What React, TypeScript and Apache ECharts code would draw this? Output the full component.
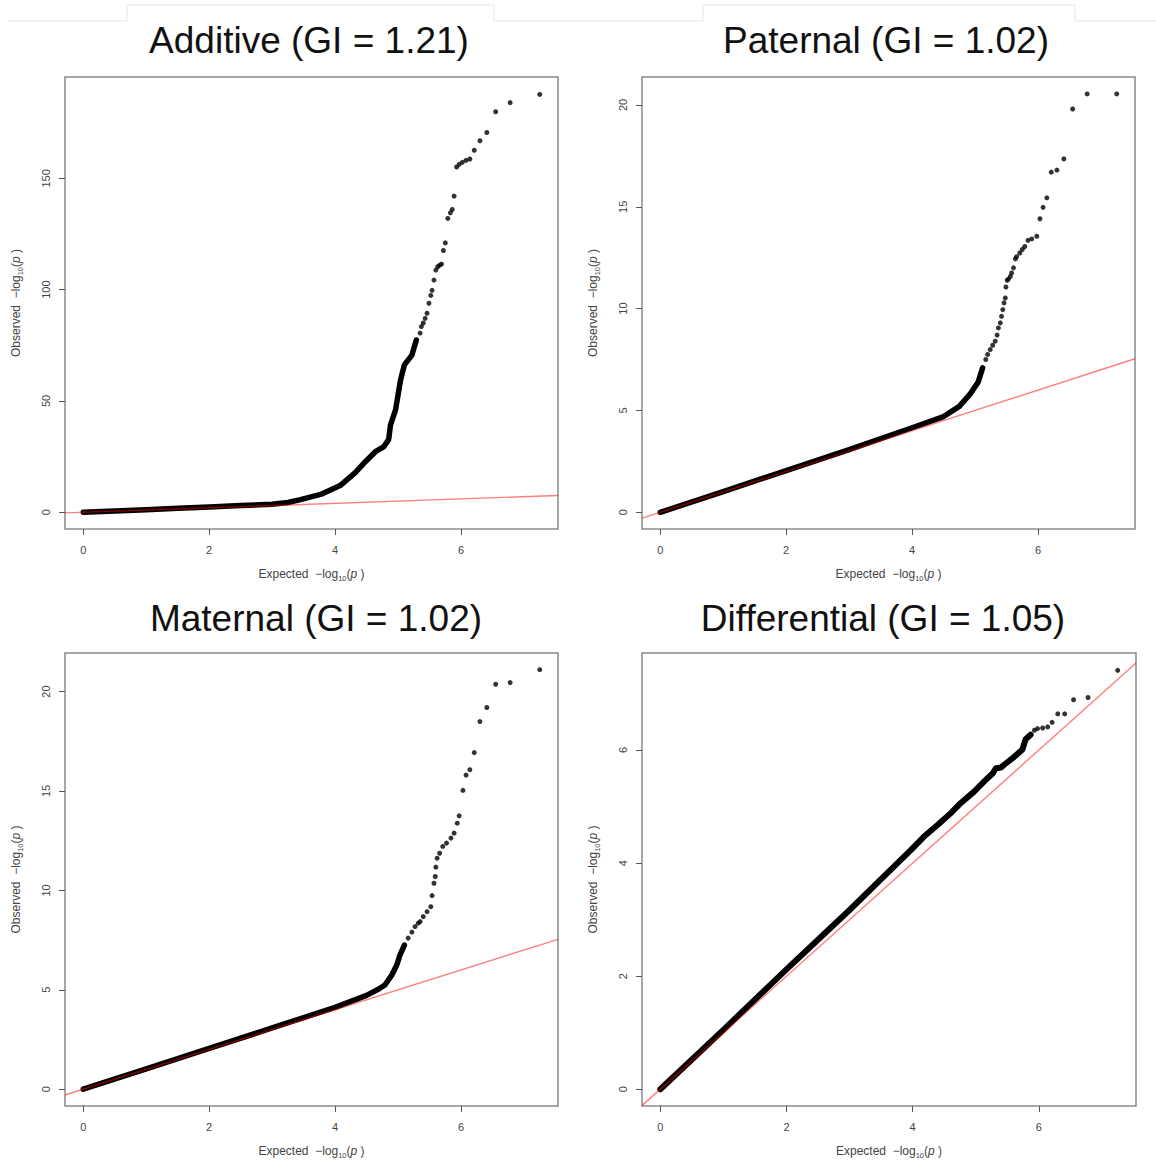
import React, { useEffect, useRef } from "react";
import * as echarts from "echarts";

// Panel titles
const titles = [
  "Additive (GI = 1.21)",
  "Paternal (GI = 1.02)",
  "Maternal (GI = 1.02)",
  "Differential (GI = 1.05)",
];

// Tick values
const xTicks = [0, 2, 4, 6];
const additiveYTicks = [0, 50, 100, 150];
const paternalYTicks = [0, 5, 10, 15, 20];
const maternalYTicks = [0, 5, 10, 15, 20];
const differentialYTicks = [0, 2, 4, 6];

// Expected vs observed -log10(p): dense body of the distribution (drawn as a thick band)
const additiveBand = [
  [0, 0], [0.5, 0.55], [1, 1.15], [1.5, 1.75], [2, 2.4], [2.5, 3.0], [3, 3.6],
  [3.25, 4.4], [3.45, 5.7], [3.77, 8.0], [4.08, 12.0], [4.32, 17.8], [4.48, 22.7],
  [4.64, 27.2], [4.77, 29.4], [4.85, 32.6], [4.88, 39.3], [4.96, 46.0], [5.0, 52.8],
  [5.04, 59.5], [5.1, 66.2], [5.22, 70.6], [5.29, 77.4],
];
// Sparse upper tail (individual SNPs)
const additiveTail = [
  [7.25, 187.7], [6.78, 184.0], [6.55, 179.9], [6.41, 170.6], [6.30, 166.9], [6.21, 162.6],
  [6.14, 158.7], [6.08, 158.1], [6.02, 157.2], [5.97, 156.3], [5.93, 155.1], [5.89, 142.0],
  [5.86, 136.0], [5.83, 134.5], [5.79, 132.0], [5.75, 121.0], [5.72, 117.6], [5.69, 111.5],
  [5.66, 111.0], [5.63, 110.3], [5.60, 108.8], [5.57, 104.3], [5.54, 99.7], [5.52, 97.4],
  [5.49, 93.9], [5.46, 89.4], [5.43, 87.1], [5.40, 85.0], [5.37, 83.4], [5.35, 80.5],
];

const paternalBand = [
  [0, 0], [1, 1.02], [2, 2.05], [3, 3.08], [4, 4.15], [4.5, 4.7], [4.75, 5.2],
  [4.92, 5.8], [5.05, 6.4], [5.12, 7.09],
];
const paternalTail = [
  [5.17, 7.5], [5.2, 7.75], [5.24, 7.99], [5.28, 8.2], [5.32, 8.4], [5.35, 8.7], [5.37, 9.05],
  [5.4, 9.3], [5.42, 9.62], [5.44, 9.95], [5.46, 10.28], [5.48, 10.52], [5.49, 11.06],
  [5.51, 11.39], [5.53, 11.45], [5.56, 11.58], [5.58, 11.75], [5.61, 12.0], [5.64, 12.44],
  [5.66, 12.55], [5.71, 12.73], [5.75, 12.9], [5.79, 13.05], [5.84, 13.35], [5.9, 13.42],
  [5.98, 13.55], [6.03, 14.41], [6.08, 14.97], [6.14, 15.44], [6.21, 16.7], [6.3, 16.8],
  [6.41, 17.35], [6.55, 19.8], [6.78, 20.54], [7.25, 20.54],
];

const maternalBand = [
  [0, 0], [1, 1.02], [2, 2.05], [3, 3.08], [4, 4.12], [4.5, 4.72], [4.7, 5.05],
  [4.79, 5.24], [4.9, 5.74], [4.98, 6.25], [5.03, 6.75], [5.1, 7.25],
];
const maternalTail = [
  [5.16, 7.6], [5.22, 7.9], [5.27, 8.18], [5.32, 8.35], [5.35, 8.43], [5.4, 8.68],
  [5.46, 8.93], [5.52, 9.18], [5.54, 9.74], [5.57, 10.36], [5.59, 10.7], [5.6, 11.17],
  [5.62, 11.62], [5.66, 11.87], [5.71, 12.21], [5.77, 12.38], [5.84, 12.63], [5.89, 12.88],
  [5.94, 13.38], [5.97, 13.75], [6.03, 15.03], [6.08, 15.8], [6.14, 16.07], [6.21, 16.93],
  [6.3, 18.49], [6.41, 19.2], [6.55, 20.37], [6.78, 20.45], [7.25, 21.1],
];

const differentialBand = [
  [0, 0], [1, 1.05], [2, 2.12], [3, 3.17], [3.97, 4.23], [4.18, 4.47], [4.39, 4.67],
  [4.6, 4.88], [4.76, 5.06], [4.97, 5.26], [5.13, 5.44], [5.27, 5.59], [5.32, 5.68],
  [5.4, 5.69], [5.45, 5.74], [5.61, 5.88], [5.74, 6.01], [5.77, 6.12], [5.79, 6.19],
  [5.87, 6.27],
];
const differentialTail = [
  [5.93, 6.35], [5.98, 6.38], [6.06, 6.39], [6.14, 6.41], [6.21, 6.49], [6.3, 6.64],
  [6.41, 6.64], [6.55, 6.89], [6.78, 6.93], [7.25, 7.41],
];

// Axis ranges (data range padded by 4% on each side)
const xRange = [-0.29, 7.54];
const yRanges = [
  [-7.52, 195.52],
  [-0.82, 21.37],
  [-0.844, 21.94],
  [-0.297, 7.717],
];

// y = x reference line across the full x range
const refLine = [
  [xRange[0], xRange[0]],
  [xRange[1], xRange[1]],
];

const FONT = '"Liberation Sans", Arial, Helvetica, sans-serif';
const AXIS_TEXT = "#444";

const panels = [
  { title: titles[0], band: additiveBand, tail: additiveTail, yTicks: additiveYTicks, grid: { left: 65, top: 77, width: 493, height: 452 }, titleX: 309, titleY: 40 },
  { title: titles[1], band: paternalBand, tail: paternalTail, yTicks: paternalYTicks, grid: { left: 642, top: 77, width: 493, height: 452 }, titleX: 886, titleY: 40 },
  { title: titles[2], band: maternalBand, tail: maternalTail, yTicks: maternalYTicks, grid: { left: 65, top: 653, width: 493, height: 453 }, titleX: 316, titleY: 618 },
  { title: titles[3], band: differentialBand, tail: differentialTail, yTicks: differentialYTicks, grid: { left: 642, top: 653, width: 494, height: 453 }, titleX: 883, titleY: 618 },
];

const nameRich = {
  a: { fontSize: 12, color: AXIS_TEXT, fontFamily: FONT, lineHeight: 15 },
  s: { fontSize: 7.5, color: AXIS_TEXT, fontFamily: FONT, padding: [8, 0, 0, 0] },
  i: { fontSize: 12, color: AXIS_TEXT, fontFamily: FONT, fontStyle: "italic", lineHeight: 15 },
};

const axisName = (word: string) => `{a|${word}  \u2212log}{s|10}{a|(}{i|p}{a| )}`;

function buildOption() {
  const grid: any[] = [];
  const xAxis: any[] = [];
  const yAxis: any[] = [];
  const series: any[] = [];
  const graphic: any[] = [];

  panels.forEach((p, i) => {
    grid.push({
      ...p.grid,
      show: true,
      borderColor: "#8a8a8a",
      borderWidth: 1.5,
      backgroundColor: "#fff",
      containLabel: false,
    });
    xAxis.push({
      type: "value",
      gridIndex: i,
      min: xRange[0],
      max: xRange[1],
      axisLine: { show: false, onZero: false },
      splitLine: { show: false },
      axisTick: { show: true, length: 6, customValues: xTicks, lineStyle: { color: "#555", width: 1 } },
      axisLabel: { customValues: xTicks, margin: 15, fontSize: 11, color: AXIS_TEXT, fontFamily: FONT },
      name: axisName("Expected"),
      nameLocation: "middle",
      nameGap: 37,
      nameTextStyle: { rich: nameRich },
    });
    yAxis.push({
      type: "value",
      gridIndex: i,
      min: yRanges[i][0],
      max: yRanges[i][1],
      axisLine: { show: false, onZero: false },
      splitLine: { show: false },
      axisTick: { show: true, length: 6, customValues: p.yTicks, lineStyle: { color: "#555", width: 1 } },
      axisLabel: { customValues: p.yTicks, rotate: 90, margin: 14, fontSize: 11, color: AXIS_TEXT, fontFamily: FONT },
      name: axisName("Observed"),
      nameLocation: "middle",
      nameGap: 41,
      nameTextStyle: { rich: nameRich },
    });
    series.push({
      type: "line",
      xAxisIndex: i,
      yAxisIndex: i,
      data: p.band,
      symbol: "none",
      showSymbol: false,
      silent: true,
      z: 2,
      lineStyle: { color: "#000", width: i === 3 ? 6 : 5.5, cap: "round", join: "round" },
    });
    series.push({
      type: "scatter",
      xAxisIndex: i,
      yAxisIndex: i,
      data: p.tail,
      symbol: "circle",
      symbolSize: 5,
      silent: true,
      z: 2,
      itemStyle: { color: "#000" },
    });
    series.push({
      type: "line",
      xAxisIndex: i,
      yAxisIndex: i,
      data: refLine,
      symbol: "none",
      showSymbol: false,
      silent: true,
      z: 3,
      lineStyle: { color: "rgba(255,0,0,0.5)", width: 1.4 },
    });
    graphic.push({
      type: "text",
      x: p.titleX,
      y: p.titleY,
      silent: true,
      style: {
        text: p.title,
        fontSize: 37,
        fontFamily: FONT,
        fill: "#111",
        align: "center",
        verticalAlign: "middle",
        textAlign: "center",
        textVerticalAlign: "middle",
      },
    });
  });

  // faint frame lines along the top edge
  graphic.push({
    type: "polyline",
    silent: true,
    shape: {
      points: [
        [8, 21], [127, 21], [127, 5], [494, 5], [494, 21], [703, 21], [703, 5], [1075, 5], [1075, 21], [1156, 21],
      ],
    },
    style: { stroke: "#e6e6e6", lineWidth: 1, fill: "none" },
  });

  return {
    animation: false,
    backgroundColor: "#fff",
    grid,
    xAxis,
    yAxis,
    series,
    graphic,
  };
}

export default function App() {
  const ref = useRef<HTMLDivElement>(null);
  useEffect(() => {
    if (!ref.current) return;
    const chart = echarts.init(ref.current, undefined, { renderer: "svg" });
    chart.setOption(buildOption());
    return () => chart.dispose();
  }, []);
  return (
    <div
      ref={ref}
      style={{ position: "absolute", left: 0, top: 0, width: 1156, height: 1171, background: "#fff" }}
    />
  );
}
